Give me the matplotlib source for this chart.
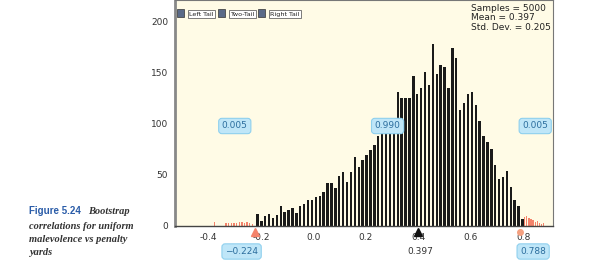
import matplotlib.pyplot as plt
import numpy as np

# bootstrap histogram (counts per bin)
bin_start = -0.2137
bin_width = 0.01487
counts = [11.5, 5, 10, 12, 7.5, 11, 20, 14, 16, 18, 13, 20, 22, 25.5, 25, 28, 29.5,
          33, 42, 42.5, 37, 49, 53, 43, 52.5, 68, 57.5, 65, 70, 74, 79, 88,
          91, 95, 99, 103, 131, 125, 125, 125, 147, 129, 135, 151, 138, 178,
          149, 158, 155.5, 135, 174, 165, 114, 121, 129, 131, 118.6, 103, 88,
          82.7, 75, 59.5, 46, 48, 54, 38.5, 25, 20, 6.5]
centers = bin_start + bin_width * np.arange(len(counts))

# tail bins (outside the 0.005 cutoffs)
left_x = [-0.378, -0.333, -0.323, -0.313, -0.303, -0.293, -0.283, -0.273, -0.263, -0.253, -0.243, -0.233]
left_h = [4, 3, 3, 3, 3, 3, 4, 4, 3, 4, 3, 2]
right_x = [0.806, 0.814, 0.822, 0.830, 0.838, 0.846, 0.854, 0.862, 0.870, 0.878]
right_h = [9, 10, 8, 7, 6, 4, 5, 3, 2, 3]

xticks = [-0.4, -0.2, 0.0, 0.2, 0.4, 0.6, 0.8]
yticks = [0, 50, 100, 150, 200]
lo_cut, mean_val, hi_cut = -0.224, 0.397, 0.788

fig = plt.figure(figsize=(6.02, 2.73), dpi=100)
ax = fig.add_axes([0.2907, 0.1722, 0.628, 0.826])
ax.set_facecolor('#fffbe6')

ax.bar(centers, counts, width=bin_width * 0.62, color='#1a1a1a')
ax.bar(left_x, left_h, width=0.005, color='#f4836b')
ax.bar(right_x, right_h, width=0.005, color='#f4836b')

ax.set_xlim(-0.528, 0.914)
ax.set_ylim(0, 221)
ax.set_xticks(xticks)
ax.set_xticklabels(['%.1f' % t if t >= 0 else '-%.1f' % abs(t) for t in xticks])
ax.set_yticks(yticks)
ax.tick_params(length=0, labelsize=6.5, colors='#333333', pad=5)

for s in ['top', 'right']:
    ax.spines[s].set_color('#777777')
    ax.spines[s].set_linewidth(0.8)
ax.spines['left'].set_color('#888888')
ax.spines['left'].set_linewidth(2)
ax.spines['bottom'].set_color('#444444')
ax.spines['bottom'].set_linewidth(1)

# cutoff / mean markers on the axis
ax.plot([lo_cut], [-6], marker='^', color='#f4836b', markersize=6, clip_on=False)
ax.plot([mean_val], [-6], marker='^', color='#111111', markersize=6, clip_on=False)
ax.plot([hi_cut], [-6], marker='o', color='#f4a080', markersize=4, clip_on=False)

box = dict(boxstyle='round,pad=0.35', fc='#bfe6f8', ec='#8fd0ee', lw=0.8)
for xv, txt in [(-0.300, '0.005'), (0.283, '0.990'), (0.846, '0.005')]:
    ax.text(xv, 98, txt, fontsize=6.5, color='#2c6e9e', ha='center', va='center', bbox=box)
ax.text(lo_cut - 0.05, -25, '\u22120.224', fontsize=6.5, color='#2c6e9e', ha='center', va='center',
        bbox=box, clip_on=False)
ax.text(hi_cut + 0.05, -25, '0.788', fontsize=6.5, color='#2c6e9e', ha='center', va='center',
        bbox=box, clip_on=False)
ax.text(mean_val + 0.01, -25, '0.397', fontsize=6.5, color='#333333', ha='center', va='center',
        clip_on=False)

ax.text(0.782, 0.985, 'Samples = 5000\nMean = 0.397\nStd. Dev. = 0.205', transform=ax.transAxes,
        fontsize=6.5, color='#222222', ha='left', va='top', linespacing=1.05)

# tail buttons
btn = dict(boxstyle='square,pad=0.2', fc='white', ec='#666666', lw=0.6)
ico = dict(boxstyle='square,pad=0.25', fc='#5a6a88', ec='#333333', lw=0.5)
for xi, xt, lab in [(0.010, 0.038, 'Left Tail'), (0.118, 0.146, 'Two-Tail'), (0.224, 0.252, 'Right Tail')]:
    ax.text(xi, 0.945, '  ', transform=ax.transAxes, fontsize=4, va='center', bbox=ico)
    ax.text(xt, 0.94, lab, transform=ax.transAxes, fontsize=4.6, color='#222222', va='center', bbox=btn)

# caption
fig.text(0.048, 0.215, 'Figure 5.24', fontsize=7, fontweight='bold', color='#2a5ca8', family='Liberation Sans')
fig.text(0.146, 0.215, 'Bootstrap', fontsize=7.5, fontweight='bold', style='italic', color='#333333',
         family='Liberation Serif')
fig.text(0.048, 0.163, 'correlations for uniform', fontsize=7.5, fontweight='bold', style='italic',
         color='#333333', family='Liberation Serif')
fig.text(0.048, 0.115, 'malevolence vs penalty', fontsize=7.5, fontweight='bold', style='italic',
         color='#333333', family='Liberation Serif')
fig.text(0.048, 0.067, 'yards', fontsize=7.5, fontweight='bold', style='italic',
         color='#333333', family='Liberation Serif')

plt.savefig('out.png', dpi=100)
